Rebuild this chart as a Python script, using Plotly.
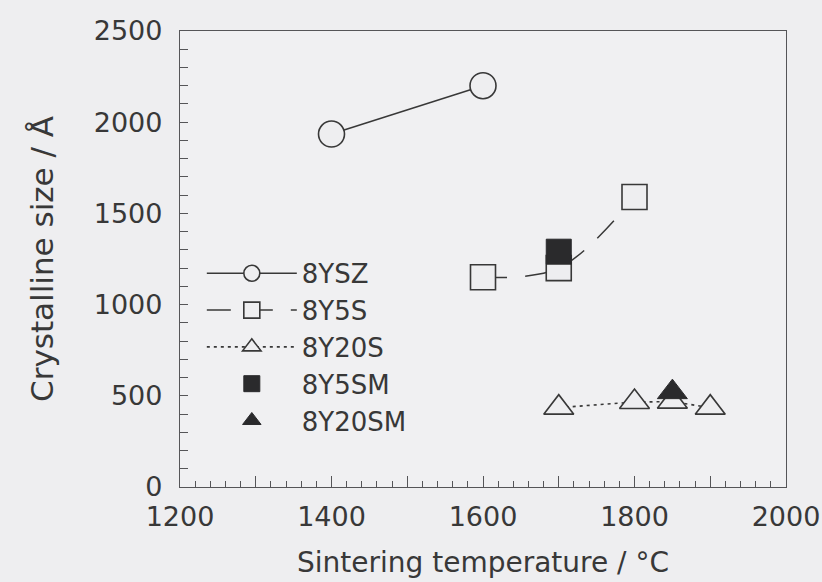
import plotly.graph_objects as go

# ---- data ----
t_8YSZ = [1400, 1600]
s_8YSZ = [1935, 2200]

t_8Y5S = [1600, 1700, 1800]
s_8Y5S = [1150, 1200, 1590]

t_8Y20S = [1700, 1800, 1850, 1900]
s_8Y20S = [435, 466, 468, 435]

t_8Y5SM = [1700]
s_8Y5SM = [1290]

t_8Y20SM = [1850]
s_8Y20SM = [520]

x_tickvals = [1200, 1300, 1400, 1500, 1600, 1700, 1800, 1900, 2000]
x_ticktext = ["1200", "", "1400", "", "1600", "", "1800", "", "2000"]
y_tickvals = [0, 500, 1000, 1500, 2000, 2500]
y_ticktext = ["0", "500", "1000", "1500", "2000", "2500"]

BG = "#eeeef0"
INK = "#383838"
AX = "#555558"
FONT = "DejaVu Sans"

fig = go.Figure()

fig.add_trace(go.Scatter(
    x=t_8YSZ, y=s_8YSZ, name="8YSZ", mode="lines+markers",
    line=dict(color=INK, width=1.5),
    marker=dict(symbol="circle", size=26, color=BG, line=dict(color=INK, width=1.6)),
))
fig.add_trace(go.Scatter(
    x=t_8Y5S, y=s_8Y5S, name="8Y5S", mode="lines+markers",
    line=dict(color=INK, width=1.5, dash="24px,18px", shape="spline", smoothing=1.0),
    marker=dict(symbol="square", size=25, color=BG, line=dict(color=INK, width=1.6)),
))
fig.add_trace(go.Scatter(
    x=t_8Y20S, y=s_8Y20S, name="8Y20S", mode="lines+markers",
    line=dict(color=INK, width=1.6, dash="3px,4px"),
    marker=dict(symbol="triangle-up", size=26, color=BG, line=dict(color=INK, width=1.6)),
))
fig.add_trace(go.Scatter(
    x=t_8Y5SM, y=s_8Y5SM, name="8Y5SM", mode="markers",
    marker=dict(symbol="square", size=25, color="#2a2a2c", line=dict(color="#2a2a2c", width=1)),
))
fig.add_trace(go.Scatter(
    x=t_8Y20SM, y=s_8Y20SM, name="8Y20SM", mode="markers",
    marker=dict(symbol="triangle-up", size=26, color="#2a2a2c", line=dict(color="#2a2a2c", width=1)),
))

fig.update_layout(
    width=822, height=582, autosize=False,
    margin=dict(l=180, r=36, t=31, b=95),
    paper_bgcolor=BG, plot_bgcolor="#f0f0f2",
    font=dict(family=FONT, color=INK),
    showlegend=True,
    legend=dict(
        x=0.036, y=0.52, xanchor="left", yanchor="top",
        bgcolor="rgba(0,0,0,0)", borderwidth=0,
        font=dict(family=FONT, size=26, color=INK),
        itemwidth=90, traceorder="normal", itemclick=False,
    ),
    xaxis=dict(
        range=[1200, 2000], tickmode="array", tickvals=x_tickvals, ticktext=x_ticktext,
        automargin=False,
        ticks="inside", ticklen=11, tickwidth=1.2, tickcolor=AX,
        minor=dict(dtick=20, tick0=1200, ticks="inside", ticklen=6, tickwidth=1, tickcolor=AX),
        showline=True, mirror=True, linecolor=AX, linewidth=1.3,
        showgrid=False, zeroline=False,
        tickfont=dict(family=FONT, size=27, color=INK),
        ticklabelstandoff=5,
        title=dict(text="Sintering temperature / °C", font=dict(family=FONT, size=28, color=INK), standoff=21),
    ),
    yaxis=dict(
        range=[0, 2500], tickmode="array", tickvals=y_tickvals, ticktext=y_ticktext,
        automargin=False,
        ticks="inside", ticklen=8, tickwidth=1, tickcolor=AX,
        minor=dict(dtick=100, tick0=0, ticks="inside", ticklen=8, tickwidth=1, tickcolor=AX),
        showline=True, mirror=True, linecolor=AX, linewidth=1.3,
        showgrid=False, zeroline=False,
        tickfont=dict(family=FONT, size=27, color=INK),
        ticklabelstandoff=11,
        title=dict(text="Crystalline size / Å", font=dict(family=FONT, size=31, color=INK), standoff=30),
    ),
)

fig.write_html("out.html")
